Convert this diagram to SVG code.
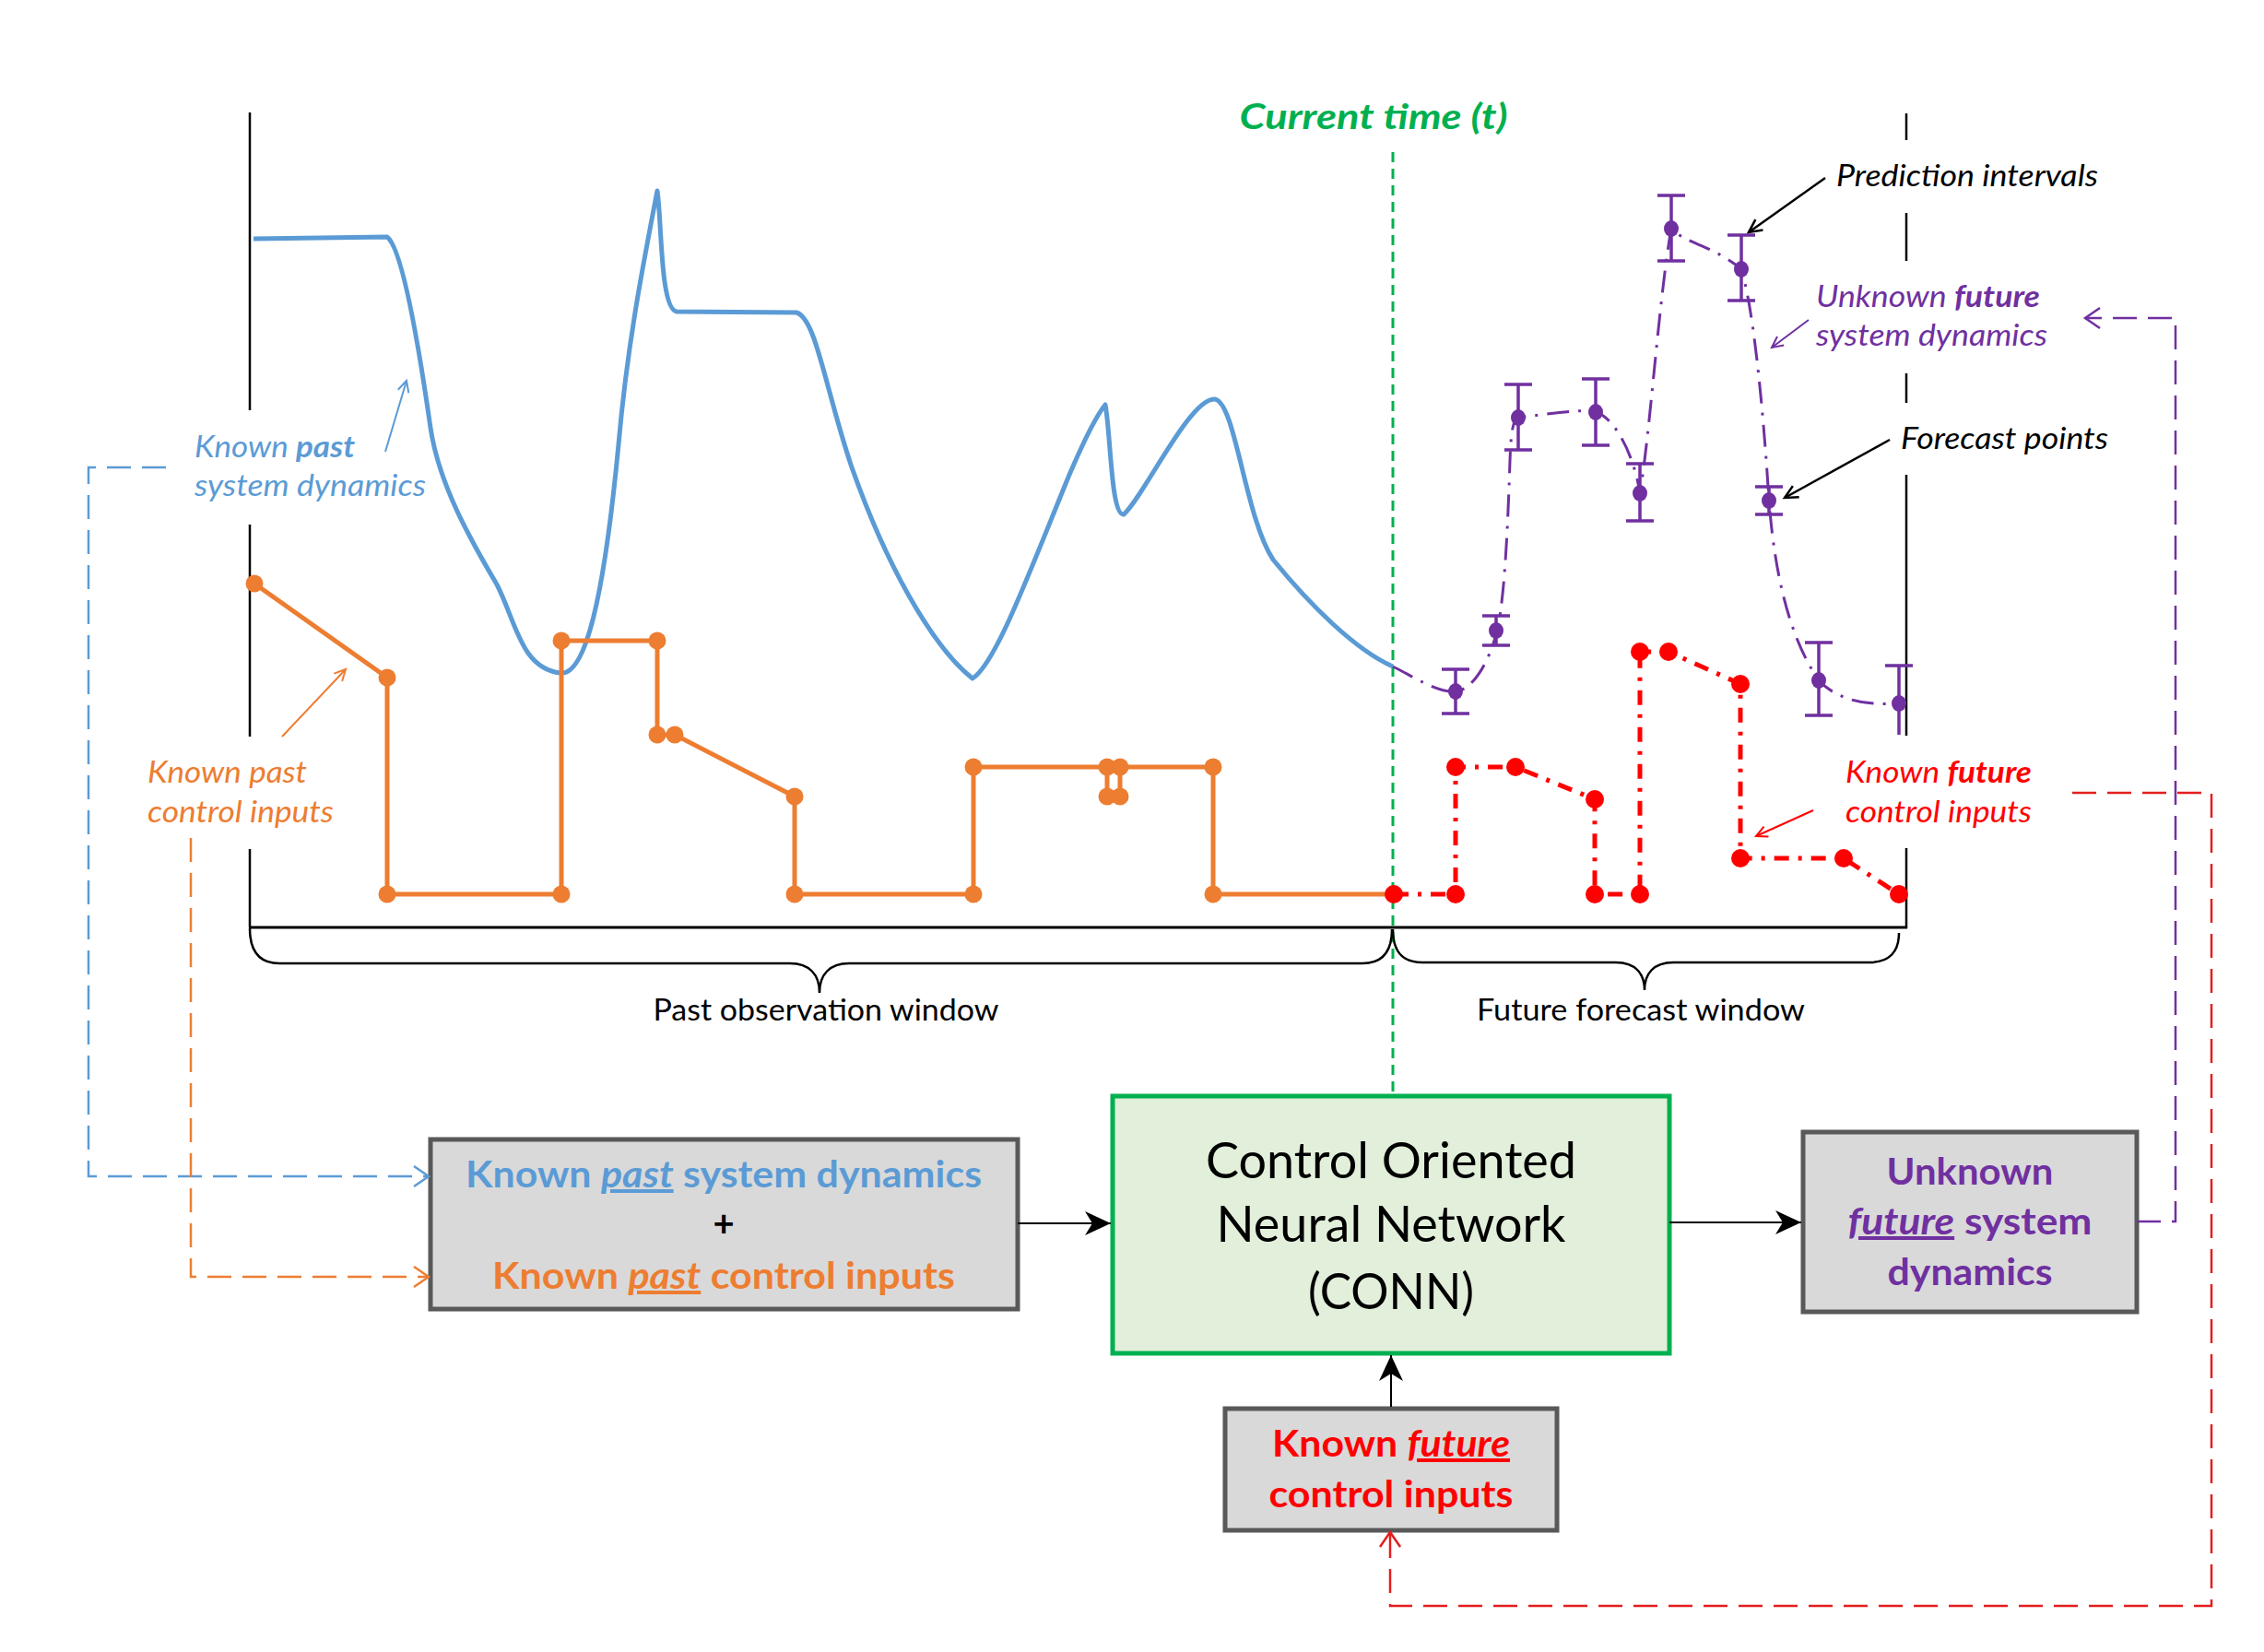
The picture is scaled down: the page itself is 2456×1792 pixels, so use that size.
<svg xmlns="http://www.w3.org/2000/svg" width="2456" height="1792" viewBox="0 0 2456 1792">
<style>
text{font-family:Lato,"Liberation Sans",sans-serif}
.lab{font-size:32px;font-style:italic}
.box{fill:#D9D9D9;stroke:#595959;stroke-width:5}
.bt{font-size:40px;font-weight:bold}
.axis{stroke:#000;stroke-width:2.5;fill:none}
.op{fill:#ED7D31}
.pp{fill:#7030A0}
.rp{fill:#FF0000}
.eb{stroke:#7030A0;stroke-width:3.5;fill:none}
.dc{fill:none;stroke-width:2.5;stroke-dasharray:26 12}
</style>
<defs>
<marker id="stealth" markerUnits="userSpaceOnUse" markerWidth="30" markerHeight="28" refX="28" refY="13" orient="auto"><path d="M0,0 L28,13 L0,26 L8,13 Z" fill="#000"/></marker>
<marker id="oBlue" markerUnits="userSpaceOnUse" markerWidth="20" markerHeight="26" refX="17" refY="12" orient="auto"><path d="M1,1 L17,12 L1,23" fill="none" stroke="#5B9BD5" stroke-width="2.5"/></marker>
<marker id="oOrange" markerUnits="userSpaceOnUse" markerWidth="20" markerHeight="26" refX="17" refY="12" orient="auto"><path d="M1,1 L17,12 L1,23" fill="none" stroke="#ED7D31" stroke-width="2.5"/></marker>
<marker id="oPurple" markerUnits="userSpaceOnUse" markerWidth="20" markerHeight="26" refX="17" refY="12" orient="auto"><path d="M1,1 L17,12 L1,23" fill="none" stroke="#7030A0" stroke-width="2.5"/></marker>
<marker id="oRed" markerUnits="userSpaceOnUse" markerWidth="20" markerHeight="26" refX="17" refY="12" orient="auto"><path d="M1,1 L17,12 L1,23" fill="none" stroke="#E41E1E" stroke-width="2.5"/></marker>
<marker id="aBlue" markerUnits="userSpaceOnUse" markerWidth="16" markerHeight="16" refX="13" refY="7" orient="auto"><path d="M1,1 L13,7 L1,13" fill="none" stroke="#5B9BD5" stroke-width="2"/></marker>
<marker id="aOrange" markerUnits="userSpaceOnUse" markerWidth="16" markerHeight="16" refX="13" refY="7" orient="auto"><path d="M1,1 L13,7 L1,13" fill="none" stroke="#ED7D31" stroke-width="2"/></marker>
<marker id="aPurple" markerUnits="userSpaceOnUse" markerWidth="16" markerHeight="16" refX="13" refY="7" orient="auto"><path d="M1,1 L13,7 L1,13" fill="none" stroke="#7030A0" stroke-width="2"/></marker>
<marker id="aRed" markerUnits="userSpaceOnUse" markerWidth="16" markerHeight="16" refX="13" refY="7" orient="auto"><path d="M1,1 L13,7 L1,13" fill="none" stroke="#FF0000" stroke-width="2"/></marker>
<marker id="aBlack" markerUnits="userSpaceOnUse" markerWidth="18" markerHeight="18" refX="15" refY="8" orient="auto"><path d="M1,1 L15,8 L1,15" fill="none" stroke="#000" stroke-width="2.5"/></marker>
</defs>
<rect width="2456" height="1792" fill="#fff"/>

<g id="chart">
<path class="axis" d="M271,122 V445 M271,569 V799 M271,921 V1006"/>
<path class="axis" d="M2068,123 V152 M2068,231 V283 M2068,405 V437 M2068,515 V798 M2068,920 V1007"/>
<path d="M270,1006 H2069" stroke="#000" stroke-width="3"/>
<path d="M1511,165 V1187" stroke="#00B050" stroke-width="3" stroke-dasharray="11 7"/>
<text x="1490" y="140" font-size="38" font-weight="bold" font-style="italic" fill="#00B050" text-anchor="middle" textLength="291" lengthAdjust="spacingAndGlyphs">Current time (t)</text>
<path d="M271,1007 C271,1032 281,1045 303,1045 L857,1045 C878,1045 889,1057 889,1077 C889,1057 900,1045 921,1045 L1478,1045 C1500,1045 1510,1032 1510,1008" fill="none" stroke="#000" stroke-width="2.5"/>
<path d="M1511,1008 C1511,1032 1521,1044 1543,1044 L1753,1044 C1774,1044 1784,1056 1784,1074 C1784,1056 1794,1044 1815,1044 L2028,1044 C2050,1044 2060,1032 2060,1012" fill="none" stroke="#000" stroke-width="2.5"/>
<text x="896" y="1107" font-size="32" text-anchor="middle" textLength="375" lengthAdjust="spacingAndGlyphs">Past observation window</text>
<text x="1780" y="1107" font-size="32" text-anchor="middle" textLength="356" lengthAdjust="spacingAndGlyphs">Future forecast window</text>

<path d="M275,259 L420,257 C437,270 455,380 467,464 C476,525 510,585 539,634 C560,675 565,725 608,730 C635,733 655,650 671,482 C680,380 695,300 713,207 C718,240 716,335 734,338 L864,339 C885,345 895,420 923,504 C960,610 1010,700 1055,736 C1080,720 1115,625 1160,515 C1175,480 1190,450 1199,439 C1205,470 1205,560 1219,558 C1240,540 1290,433 1317,433 C1340,433 1350,560 1381,607 C1420,655 1470,705 1511,723" fill="none" stroke="#5B9BD5" stroke-width="5" stroke-linejoin="round"/>

<path d="M276,633 L420,735 L420,970 L609,970 L609,695 L713,695 L713,797 L732,797 L862,864 L862,970 L1056,970 L1056,832 L1201,832 L1201,864 L1215,864 L1215,832 L1316,832 L1316,970 L1511,970" fill="none" stroke="#ED7D31" stroke-width="5" stroke-linejoin="round"/>
<g class="op">
<circle cx="276" cy="633" r="9.5"/><circle cx="420" cy="735" r="9.5"/><circle cx="420" cy="970" r="9.5"/><circle cx="609" cy="970" r="9.5"/><circle cx="609" cy="695" r="9.5"/><circle cx="713" cy="695" r="9.5"/><circle cx="713" cy="797" r="9.5"/><circle cx="732" cy="797" r="9.5"/><circle cx="862" cy="864" r="9.5"/><circle cx="862" cy="970" r="9.5"/><circle cx="1056" cy="970" r="9.5"/><circle cx="1056" cy="832" r="9.5"/><circle cx="1201" cy="832" r="9.5"/><circle cx="1201" cy="864" r="9.5"/><circle cx="1215" cy="864" r="9.5"/><circle cx="1215" cy="832" r="9.5"/><circle cx="1316" cy="832" r="9.5"/><circle cx="1316" cy="970" r="9.5"/>
</g>

<path d="M1512,970 L1579,970 L1579,832 L1644,832 L1730,867 L1730,970 L1779,970 L1779,707 L1810,707 L1888,742 L1888,931 L2000,931 L2060,970" fill="none" stroke="#FF0000" stroke-width="5" stroke-dasharray="16 10 4 10"/>
<g class="rp">
<circle cx="1512" cy="970" r="10"/><circle cx="1579" cy="970" r="10"/><circle cx="1579" cy="832" r="10"/><circle cx="1644" cy="832" r="10"/><circle cx="1730" cy="867" r="10"/><circle cx="1730" cy="970" r="10"/><circle cx="1779" cy="970" r="10"/><circle cx="1779" cy="707" r="10"/><circle cx="1810" cy="707" r="10"/><circle cx="1888" cy="742" r="10"/><circle cx="1888" cy="931" r="10"/><circle cx="2000" cy="931" r="10"/><circle cx="2060" cy="970" r="10"/>
</g>

<path d="M1511,723 C1535,735 1560,752 1579,750 C1600,748 1618,712 1625,680 C1633,640 1636,560 1638,500 C1639,470 1641,455 1647,453 C1680,449 1715,443 1731,447 C1750,452 1772,490 1779,535 C1790,470 1800,320 1813,248 C1830,265 1855,265 1888,291 C1900,320 1912,430 1919,543 C1925,620 1940,690 1973,738 C1995,762 2030,765 2060,763" fill="none" stroke="#7030A0" stroke-width="3" stroke-dasharray="24 10 3 10"/>
<path class="eb" d="M1579,726 V774 M1564,726 H1594 M1564,774 H1594
M1623,668 V700 M1608,668 H1638 M1608,700 H1638
M1647,417 V488 M1632,417 H1662 M1632,488 H1662
M1731,411 V483 M1716,411 H1746 M1716,483 H1746
M1779,503 V565 M1764,503 H1794 M1764,565 H1794
M1813,212 V283 M1798,212 H1828 M1798,283 H1828
M1889,255 V326 M1874,255 H1904 M1874,326 H1904
M1919,528 V558 M1904,528 H1934 M1904,558 H1934
M1973,697 V776 M1958,697 H1988 M1958,776 H1988
M2060,722 V797 M2045,722 H2075"/>
<g class="pp">
<ellipse cx="1579" cy="750" rx="8" ry="9"/><ellipse cx="1623" cy="684" rx="8" ry="9"/><ellipse cx="1647" cy="453" rx="8" ry="9"/><ellipse cx="1731" cy="447" rx="8" ry="9"/><ellipse cx="1779" cy="535" rx="8" ry="9"/><ellipse cx="1813" cy="248" rx="8" ry="9"/><ellipse cx="1889" cy="292" rx="8" ry="9"/><ellipse cx="1919" cy="543" rx="8" ry="9"/><ellipse cx="1973" cy="738" rx="8" ry="9"/><ellipse cx="2060" cy="763" rx="8" ry="9"/>
</g>

<text class="lab" x="211" y="496" fill="#5B9BD5" textLength="174" lengthAdjust="spacingAndGlyphs">Known <tspan font-weight="bold">past</tspan></text>
<text class="lab" x="211" y="538" fill="#5B9BD5" textLength="251" lengthAdjust="spacingAndGlyphs">system dynamics</text>
<path d="M418,490 L441,413" stroke="#5B9BD5" stroke-width="2" marker-end="url(#aBlue)"/>

<text class="lab" x="160" y="849" fill="#ED7D31" textLength="173" lengthAdjust="spacingAndGlyphs">Known past</text>
<text class="lab" x="160" y="892" fill="#ED7D31" textLength="202" lengthAdjust="spacingAndGlyphs">control inputs</text>
<path d="M306,799 L375,726" stroke="#ED7D31" stroke-width="2" marker-end="url(#aOrange)"/>

<text class="lab" x="1992" y="202" fill="#000" textLength="284" lengthAdjust="spacingAndGlyphs">Prediction intervals</text>
<path d="M1980,193 L1897,252" stroke="#000" stroke-width="2.5" marker-end="url(#aBlack)"/>

<text class="lab" x="1970" y="333" fill="#7030A0" textLength="243" lengthAdjust="spacingAndGlyphs">Unknown <tspan font-weight="bold">future</tspan></text>
<text class="lab" x="1970" y="375" fill="#7030A0" textLength="251" lengthAdjust="spacingAndGlyphs">system dynamics</text>
<path d="M1962,347 L1922,377" stroke="#7030A0" stroke-width="2" marker-end="url(#aPurple)"/>

<text class="lab" x="2062" y="487" fill="#000" textLength="225" lengthAdjust="spacingAndGlyphs">Forecast points</text>
<path d="M2050,477 L1936,540" stroke="#000" stroke-width="2.5" marker-end="url(#aBlack)"/>

<text class="lab" x="2002" y="849" fill="#FF0000" textLength="202" lengthAdjust="spacingAndGlyphs">Known <tspan font-weight="bold">future</tspan></text>
<text class="lab" x="2002" y="892" fill="#FF0000" textLength="202" lengthAdjust="spacingAndGlyphs">control inputs</text>
<path d="M1967,879 L1905,907" stroke="#FF0000" stroke-width="2" marker-end="url(#aRed)"/>
</g>

<g id="node-past-inputs">
<rect class="box" x="467" y="1236" width="637" height="184"/>
<text class="bt" x="785" y="1288" fill="#5B9BD5" text-anchor="middle" textLength="560" lengthAdjust="spacingAndGlyphs">Known <tspan font-style="italic" text-decoration="underline">past</tspan> system dynamics</text>
<text class="bt" x="785" y="1341" fill="#000" text-anchor="middle">+</text>
<text class="bt" x="785" y="1398" fill="#ED7D31" text-anchor="middle" textLength="502" lengthAdjust="spacingAndGlyphs">Known <tspan font-style="italic" text-decoration="underline">past</tspan> control inputs</text>
</g>

<g id="node-conn">
<rect x="1207" y="1189" width="604" height="279" fill="#E2EFDA" stroke="#00B050" stroke-width="5"/>
<text x="1509" y="1278" font-size="54" text-anchor="middle" textLength="402" lengthAdjust="spacingAndGlyphs">Control Oriented</text>
<text x="1509" y="1347" font-size="54" text-anchor="middle" textLength="379" lengthAdjust="spacingAndGlyphs">Neural Network</text>
<text x="1509" y="1420" font-size="54" text-anchor="middle" textLength="180" lengthAdjust="spacingAndGlyphs">(CONN)</text>
</g>

<g id="node-unknown-future">
<rect class="box" x="1956" y="1228" width="362" height="195"/>
<text class="bt" x="2137" y="1285" fill="#7030A0" text-anchor="middle" textLength="181" lengthAdjust="spacingAndGlyphs">Unknown</text>
<text class="bt" x="2137" y="1339" fill="#7030A0" text-anchor="middle" textLength="265" lengthAdjust="spacingAndGlyphs"><tspan font-style="italic" text-decoration="underline">future</tspan> system</text>
<text class="bt" x="2137" y="1394" fill="#7030A0" text-anchor="middle" textLength="179" lengthAdjust="spacingAndGlyphs">dynamics</text>
</g>

<g id="node-known-future">
<rect class="box" x="1329" y="1528" width="360" height="132"/>
<text class="bt" x="1509" y="1580" fill="#FF0000" text-anchor="middle" textLength="258" lengthAdjust="spacingAndGlyphs">Known <tspan font-style="italic" text-decoration="underline">future</tspan></text>
<text class="bt" x="1509" y="1635" fill="#FF0000" text-anchor="middle" textLength="265" lengthAdjust="spacingAndGlyphs">control inputs</text>
</g>

<g id="connectors">
<path d="M1104,1327 H1205" stroke="#000" stroke-width="2" marker-end="url(#stealth)"/>
<path d="M1811,1326 H1954" stroke="#000" stroke-width="2" marker-end="url(#stealth)"/>
<path d="M1509,1526 V1470" stroke="#000" stroke-width="2" marker-end="url(#stealth)"/>
<path class="dc" d="M180,507 H96 V1276 H465" stroke="#5B9BD5" marker-end="url(#oBlue)"/>
<path class="dc" d="M207,909 V1385 H465" stroke="#ED7D31" marker-end="url(#oOrange)"/>
<path class="dc" d="M2318,1325 H2360 V345 H2262" stroke="#7030A0" marker-end="url(#oPurple)"/>
<path class="dc" d="M2248,860 H2399 V1742 H1508 V1662" stroke="#E41E1E" stroke-width="3.5" marker-end="url(#oRed)"/>
</g>
</svg>
